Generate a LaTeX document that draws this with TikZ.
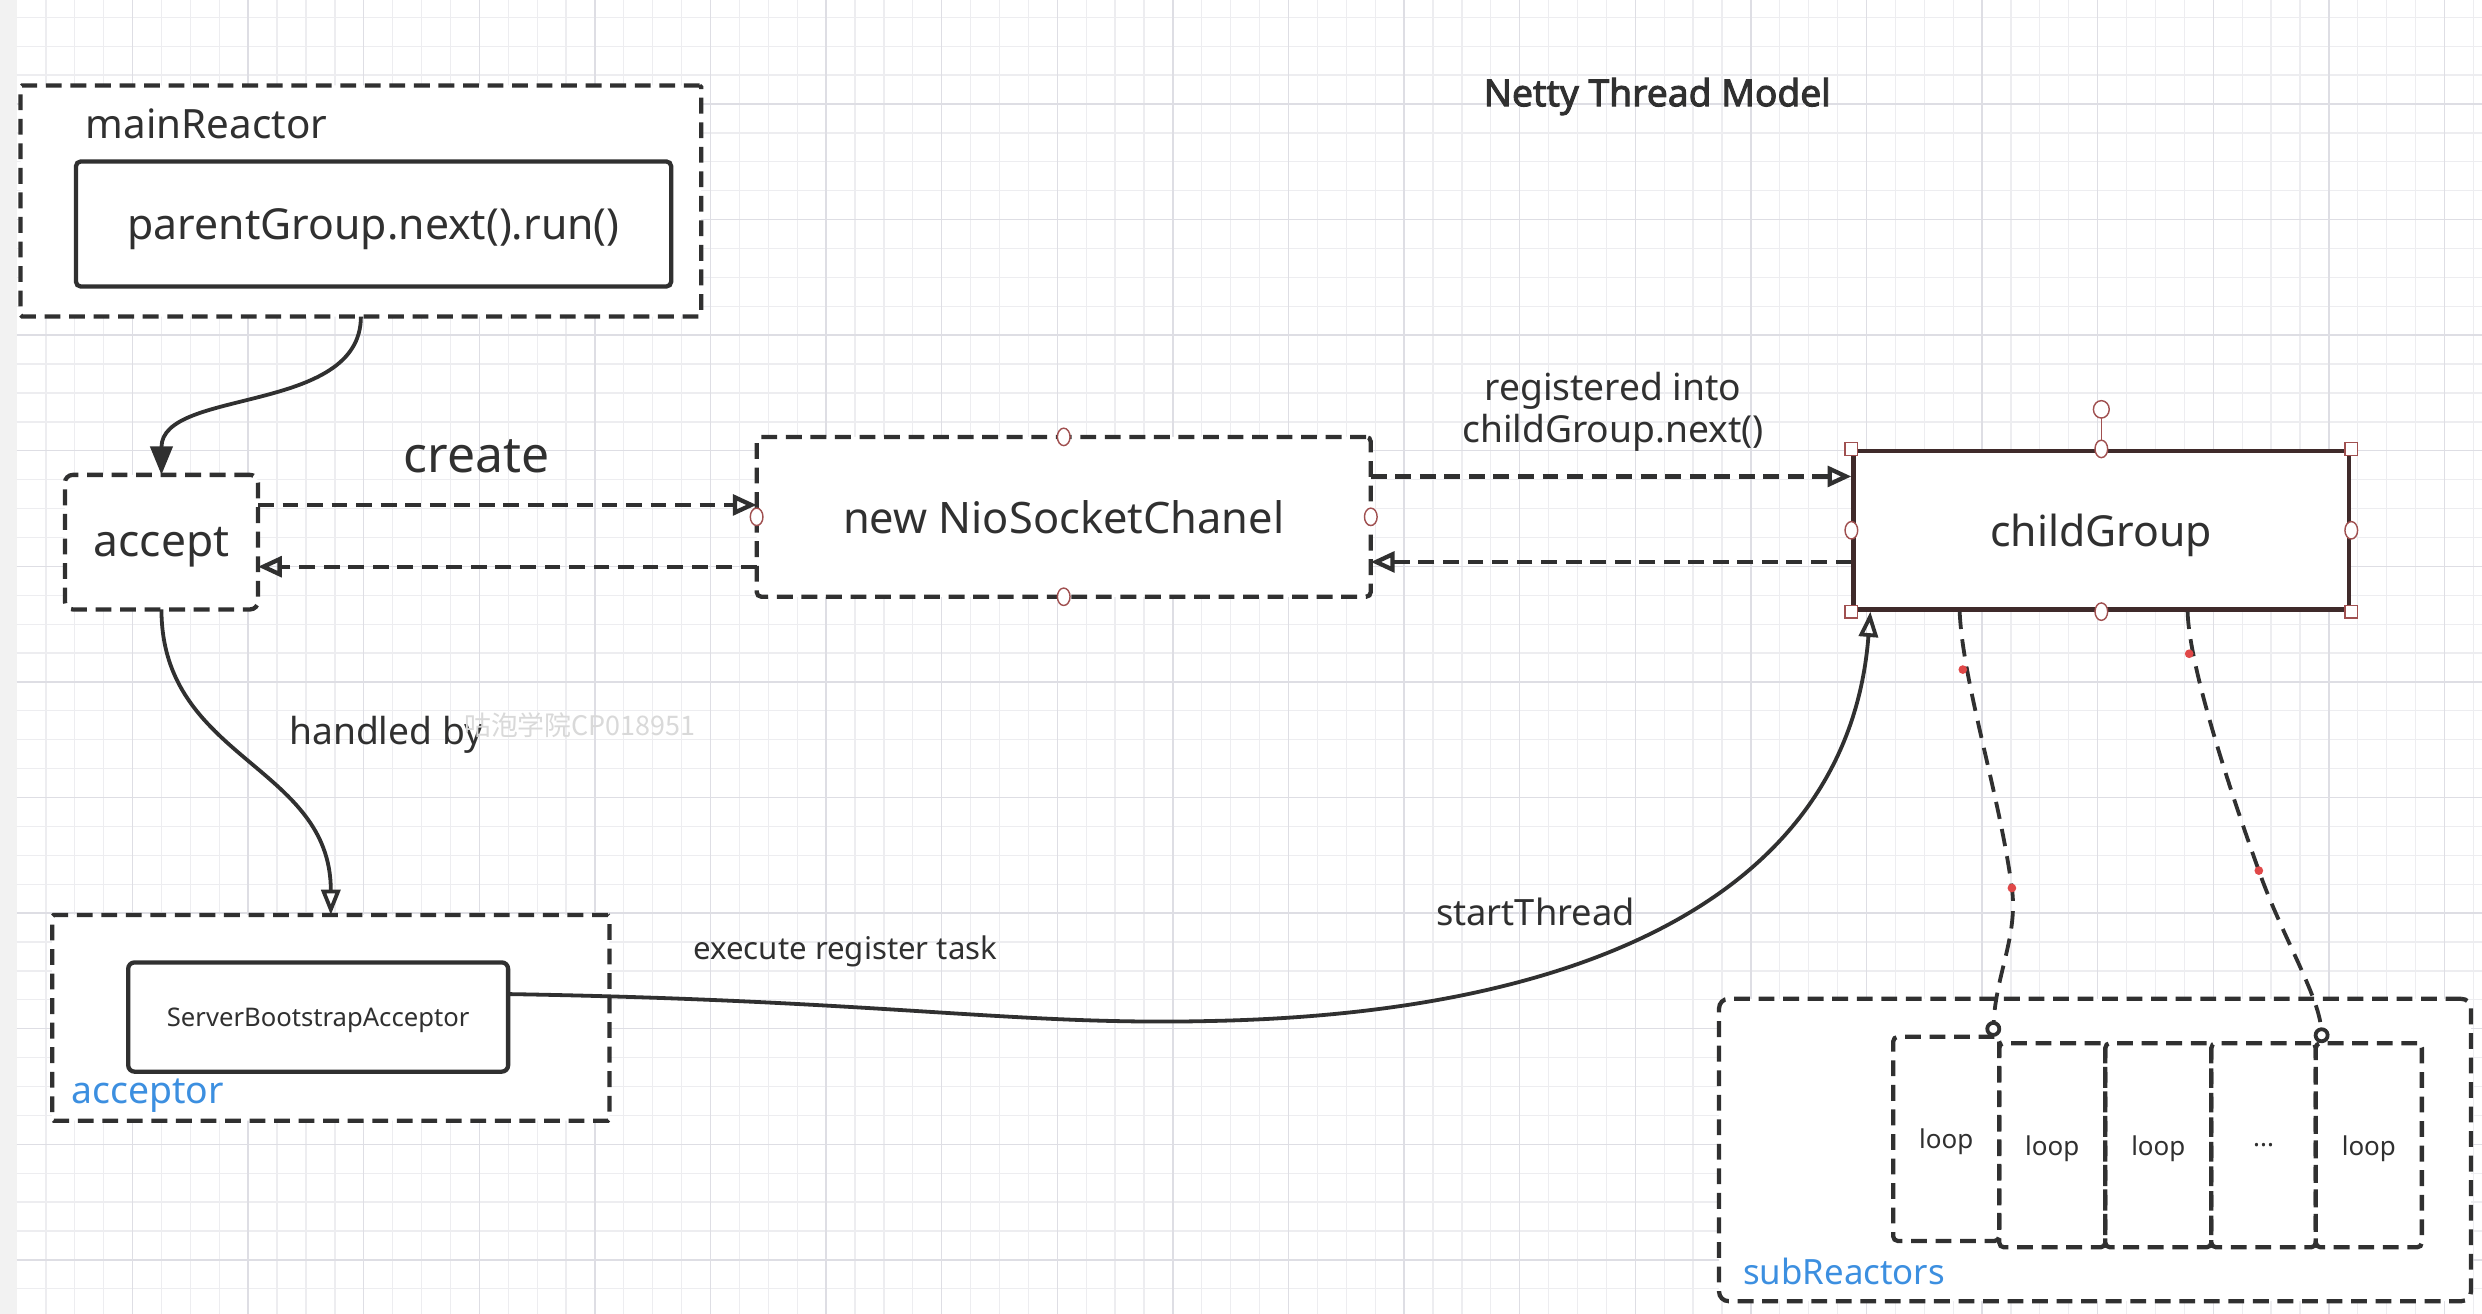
\documentclass[tikz,border=0pt]{standalone}
\usepackage{fontspec}
\setmainfont{Noto Sans}
\newfontfamily\cjkfont{Noto Sans CJK SC}
\newfontfamily\titlefont{Noto Sans}[FakeBold=2.5]
\usetikzlibrary{arrows.meta,calc,shapes.geometric}
\definecolor{ink}{HTML}{303030}
\definecolor{bluetxt}{HTML}{3C8FE0}
\definecolor{cgframe}{HTML}{3F2A2A}
\definecolor{handle}{HTML}{A05050}
\definecolor{gridminor}{HTML}{EDEDF0}
\definecolor{gridmajor}{HTML}{DEDEE4}
\definecolor{band}{HTML}{F2F2F2}
\definecolor{reddot}{HTML}{E04848}
\newcommand{\fsz}[1]{\fontsize{#1}{#1}\selectfont}
\tikzset{
  lw/.style={line width=2.7pt},
  dpat/.style={dash pattern=on 10pt off 5.5pt},
  dbox/.style={draw=ink, lw, dpat, rounded corners=3pt, inner sep=0pt, outer sep=0pt, fill=white, text depth=0pt},
  dboxnf/.style={draw=ink, lw, dpat, rounded corners=3pt, inner sep=0pt, outer sep=0pt, text depth=0pt},
  sbox/.style={draw=ink, lw, rounded corners=3pt, inner sep=0pt, outer sep=0pt, fill=white, text depth=0pt},
  txt/.style={text=ink, inner sep=0pt},
  dasharrow/.style={draw=ink, lw, dpat, -{Triangle[open,length=15pt,width=13pt]}},
  openarrow/.style={draw=ink, line width=2.4pt, -{Triangle[open,length=16pt,width=12pt]}},
  fillarrow/.style={draw=ink, line width=2.4pt, -{Triangle[length=18pt,width=14pt]}},
  circlelink/.style={draw=ink, line width=2.4pt, dash pattern=on 11pt off 6.5pt, -{Circle[open,length=10pt,width=10pt]}},
  hsq/.style={draw=handle, fill=white, line width=0.9pt, minimum size=8pt, inner sep=0pt},
  hci/.style={draw=handle, fill=white, line width=0.9pt, ellipse, minimum width=8pt, minimum height=11pt, inner sep=0pt},
  rdot/.style={fill=reddot, circle, minimum size=5.5pt, inner sep=0pt},
}
\begin{document}
\begin{tikzpicture}[x=1pt,y=-1pt]
% background and grid
\fill[white] (0,0) rectangle (1568,830);
\useasboundingbox (0,0) rectangle (1568,830);
\fill[band] (0,0) rectangle (10.7,830);
\foreach \k in {1,...,85} {\draw[gridminor, line width=0.8pt] ({10.74+18.256*\k},0) -- ({10.74+18.256*\k},830);}
\foreach \k in {-3,...,41} {\draw[gridminor, line width=0.8pt] (10.7,{65.7+18.256*\k}) -- (1568,{65.7+18.256*\k});}
\foreach \k in {1,...,21} {\draw[gridmajor, line width=0.9pt] ({10.74+73.024*\k},0) -- ({10.74+73.024*\k},830);}
\foreach \k in {0,...,10} {\draw[gridmajor, line width=0.9pt] (10.7,{65.7+73.024*\k}) -- (1568,{65.7+73.024*\k});}

% title
\node[txt, font=\titlefont\fsz{23.5}] (title) at (1047,61) {Netty Thread Model};

% mainReactor
\node[dbox, rounded corners=1pt, minimum width=430pt, minimum height=146pt] (mainR) at (228,127) {};
\node[txt, font=\fsz{25.5}, anchor=west] (mainRlbl) at (54,78) {mainReactor};
\node[sbox, minimum width=376pt, minimum height=79pt, font=\fsz{27}] (parent) at (236,141.5) {\textcolor{ink}{parentGroup.next().run()}};

% accept
\node[dbox, rounded corners=5pt, minimum width=122pt, minimum height=85pt, font=\fsz{28}] (accept) at (102,342.5) {\textcolor{ink}{accept}};

% NioSocketChanel
\node[dbox, minimum width=388pt, minimum height=101pt, font=\fsz{27.4}] (nio) at (672,326.5) {\textcolor{ink}{new NioSocketChanel}};

% childGroup
\node[draw=cgframe, line width=2.8pt, fill=white, inner sep=0pt, text depth=0pt, minimum width=313pt, minimum height=100pt, font=\fsz{27}] (cg) at (1327.5,335) {\textcolor{ink}{childGroup}};

% acceptor group
\node[dbox, rounded corners=1pt, minimum width=352pt, minimum height=130pt] (acc) at (209,643) {};
\node[sbox, rounded corners=4pt, minimum width=240pt, minimum height=69pt, font=\fsz{16.2}] (sba) at (201,642.5) {\textcolor{ink}{ServerBootstrapAcceptor}};
\node[text=bluetxt, inner sep=0pt, font=\fsz{23.6}, anchor=west] (acclbl) at (45,692) {acceptor};

% subReactors group
\node[dbox, rounded corners=6pt, minimum width=475pt, minimum height=191pt] (sub) at (1323.5,726.5) {};
\node[text=bluetxt, inner sep=0pt, font=\fsz{22}, anchor=west] (sublbl) at (1101,803) {subReactors};
\node[dboxnf, minimum width=67pt, minimum height=129pt, font=\fsz{16.4}] (l1) at (1229.5,719.5) {\textcolor{ink}{loop}};
\node[dboxnf, minimum width=67pt, minimum height=129pt, font=\fsz{16.4}] (l2) at (1296.5,723.5) {\textcolor{ink}{loop}};
\node[dboxnf, minimum width=67pt, minimum height=129pt, font=\fsz{16.4}] (l3) at (1363.5,723.5) {\textcolor{ink}{loop}};
\node[dboxnf, minimum width=66pt, minimum height=129pt, font=\fsz{16.4}] (l4) at (1430,723.5) {\textcolor{ink}{...}};
\node[dboxnf, minimum width=67pt, minimum height=129pt, font=\fsz{16.4}] (l5) at (1496.5,723.5) {\textcolor{ink}{loop}};

% connectors
\draw[fillarrow] (mainR.south) .. controls +(0,62) and +(0,-55) .. (accept.north);
\draw[openarrow] (accept.south) .. controls +(0,95) and +(0,-95) .. (acc.north);
\node[txt, font=\fsz{23.5}] (handled) at (244,464) {handled by};
\node[text=gray!30, inner sep=0pt, font=\cjkfont\fsz{17}, anchor=west] (wm) at (293,458) {咕泡学院CP018951};

\draw[dasharrow] ([yshift=23.5pt]accept.east) -- ([yshift=23.5pt]accept.east -| nio.west);
\draw[dasharrow] ([yshift=-15.5pt]accept.east -| nio.west) -- ([yshift=-15.5pt]accept.east);
\node[txt, font=\fsz{31.5}] (create) at (301,288) {create};

\draw[dasharrow] ([yshift=34pt]cg.west -| nio.east) -- ([yshift=34pt]cg.west);
\draw[dasharrow] ([yshift=-20pt]cg.west) -- ([yshift=-20pt]cg.west -| nio.east);
\node[txt, font=\fsz{23.5}, align=center] (reg) at (1019,260) {registered into\\[3pt]childGroup.next()};

\draw[openarrow] ([yshift=14.5pt]sba.east) .. controls (560,632) and (640,648) .. (765,645)
   .. controls (1010,640) and (1168,560) .. ([xshift=12pt]cg.south west);
\node[txt, font=\fsz{19.7}] (exec) at (534,601) {execute register task};
\node[txt, font=\fsz{22.9}] (start) at (970,576) {startThread};

\draw[circlelink] ([xshift=-89.5pt]cg.south) .. controls +(2,45) and +(-8,-60) .. (1271,561) .. controls +(4,30) and +(2,-40) .. ([xshift=-4pt]l1.north east);
\draw[circlelink] ([xshift=54.5pt]cg.south) .. controls +(1,35) and +(-18,-50) .. (1427,550) .. controls +(14,40) and +(-2,-30) .. ([xshift=4pt]l5.north west);

% editor handles
\node[rdot] (rd1) at (1240,423) {};
\node[rdot] (rd2) at (1271,561) {};
\node[rdot] (rd3) at (1383,413) {};
\node[rdot] (rd4) at (1427,550) {};
\draw[handle, line width=0.9pt] (cg.north) -- ([yshift=25pt]cg.north);
\node[hci, minimum width=10pt, minimum height=11pt] (rot) at ([yshift=25pt]cg.north) {};
\foreach \a/\n in {north west/a, north east/b, south west/c, south east/d} {\node[hsq] (cgs\n) at (cg.\a) {};}
\foreach \a/\n in {north/a, south/b, west/c, east/d} {\node[hci] (cgc\n) at (cg.\a) {};}
\foreach \a/\n in {north/a, south/b, west/c, east/d} {\node[hci] (nioc\n) at (nio.\a) {};}
\end{tikzpicture}
\end{document}
